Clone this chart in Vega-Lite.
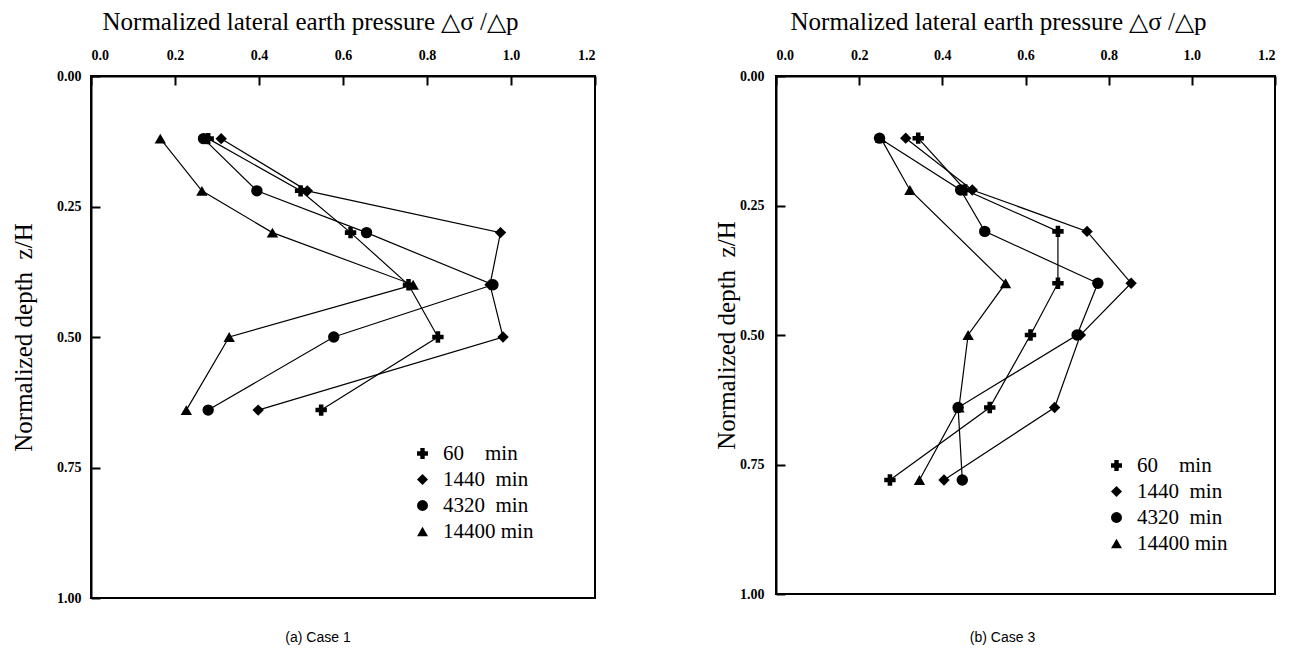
{
  "$schema": "https://vega.github.io/schema/vega-lite/v6.json",
  "padding": {"left": 10, "top": 8, "right": 0, "bottom": 0},
  "background": "white",
  "datasets": {
    "pts": [
      {"panel": "a", "series": "60", "x": 0.279, "depth": 0.12},
      {"panel": "a", "series": "60", "x": 0.499, "depth": 0.22},
      {"panel": "a", "series": "60", "x": 0.618, "depth": 0.30},
      {"panel": "a", "series": "60", "x": 0.756, "depth": 0.40},
      {"panel": "a", "series": "60", "x": 0.826, "depth": 0.50},
      {"panel": "a", "series": "60", "x": 0.548, "depth": 0.64},
      {"panel": "a", "series": "1440", "x": 0.310, "depth": 0.12},
      {"panel": "a", "series": "1440", "x": 0.515, "depth": 0.22},
      {"panel": "a", "series": "1440", "x": 0.975, "depth": 0.30},
      {"panel": "a", "series": "1440", "x": 0.950, "depth": 0.40},
      {"panel": "a", "series": "1440", "x": 0.981, "depth": 0.50},
      {"panel": "a", "series": "1440", "x": 0.398, "depth": 0.64},
      {"panel": "a", "series": "4320", "x": 0.268, "depth": 0.12},
      {"panel": "a", "series": "4320", "x": 0.395, "depth": 0.22},
      {"panel": "a", "series": "4320", "x": 0.656, "depth": 0.30},
      {"panel": "a", "series": "4320", "x": 0.957, "depth": 0.40},
      {"panel": "a", "series": "4320", "x": 0.578, "depth": 0.50},
      {"panel": "a", "series": "4320", "x": 0.279, "depth": 0.64},
      {"panel": "a", "series": "14400", "x": 0.165, "depth": 0.12},
      {"panel": "a", "series": "14400", "x": 0.264, "depth": 0.22},
      {"panel": "a", "series": "14400", "x": 0.432, "depth": 0.30},
      {"panel": "a", "series": "14400", "x": 0.767, "depth": 0.40},
      {"panel": "a", "series": "14400", "x": 0.329, "depth": 0.50},
      {"panel": "a", "series": "14400", "x": 0.227, "depth": 0.64},
      {"panel": "b", "series": "60", "x": 0.342, "depth": 0.12},
      {"panel": "b", "series": "60", "x": 0.455, "depth": 0.22},
      {"panel": "b", "series": "60", "x": 0.678, "depth": 0.30},
      {"panel": "b", "series": "60", "x": 0.678, "depth": 0.40},
      {"panel": "b", "series": "60", "x": 0.612, "depth": 0.50},
      {"panel": "b", "series": "60", "x": 0.514, "depth": 0.64},
      {"panel": "b", "series": "60", "x": 0.274, "depth": 0.78},
      {"panel": "b", "series": "1440", "x": 0.312, "depth": 0.12},
      {"panel": "b", "series": "1440", "x": 0.472, "depth": 0.22},
      {"panel": "b", "series": "1440", "x": 0.748, "depth": 0.30},
      {"panel": "b", "series": "1440", "x": 0.854, "depth": 0.40},
      {"panel": "b", "series": "1440", "x": 0.732, "depth": 0.50},
      {"panel": "b", "series": "1440", "x": 0.670, "depth": 0.64},
      {"panel": "b", "series": "1440", "x": 0.404, "depth": 0.78},
      {"panel": "b", "series": "4320", "x": 0.249, "depth": 0.12},
      {"panel": "b", "series": "4320", "x": 0.444, "depth": 0.22},
      {"panel": "b", "series": "4320", "x": 0.502, "depth": 0.30},
      {"panel": "b", "series": "4320", "x": 0.774, "depth": 0.40},
      {"panel": "b", "series": "4320", "x": 0.724, "depth": 0.50},
      {"panel": "b", "series": "4320", "x": 0.438, "depth": 0.64},
      {"panel": "b", "series": "4320", "x": 0.448, "depth": 0.78},
      {"panel": "b", "series": "14400", "x": 0.252, "depth": 0.12},
      {"panel": "b", "series": "14400", "x": 0.322, "depth": 0.22},
      {"panel": "b", "series": "14400", "x": 0.552, "depth": 0.40},
      {"panel": "b", "series": "14400", "x": 0.462, "depth": 0.50},
      {"panel": "b", "series": "14400", "x": 0.440, "depth": 0.64},
      {"panel": "b", "series": "14400", "x": 0.345, "depth": 0.78}
    ]
  },
  "config": {
    "view": {"stroke": "black", "strokeWidth": 2},
    "axis": {
      "domainColor": "black", "domainWidth": 2,
      "tickColor": "black", "tickWidth": 2, "tickSize": -9,
      "labelFont": "Liberation Serif", "labelFontWeight": "bold", "labelFontSize": 14, "labelColor": "black",
      "titleFont": "Liberation Serif", "titleFontWeight": "normal", "titleFontSize": 25, "titleColor": "black",
      "grid": false
    },
    "legend": {
      "labelFont": "Liberation Serif", "labelFontSize": 21, "labelColor": "black",
      "symbolFillColor": "black", "symbolStrokeColor": "black", "symbolStrokeWidth": 0,
      "symbolSize": 120, "rowPadding": 4, "title": null, "labelOffset": 10
    },
    "title": {"font": "Liberation Sans", "fontSize": 14, "fontWeight": "normal", "color": "black", "orient": "bottom", "offset": 26}
  },
  "hconcat": [
    {
      "width": 504, "height": 522,
      "title": {"text": "(a) Case 1", "dx": -25},
      "data": {"name": "pts"},
      "transform": [{"filter": "datum.panel == 'a'"}],
      "encoding": {
        "x": {"field": "x", "type": "quantitative", "scale": {"domain": [0, 1.2], "nice": false},
              "axis": {"orient": "top", "values": [0, 0.2, 0.4, 0.6, 0.8, 1.0, 1.2], "format": ".1f", "labelPadding": 23,
                       "title": "Normalized lateral earth pressure  △σ /△p", "titlePadding": 14, "titleX": 219}},
        "y": {"field": "depth", "type": "quantitative", "scale": {"domain": [0, 1], "reverse": true, "nice": false},
              "axis": {"values": [0, 0.25, 0.5, 0.75, 1], "format": ".2f", "labelPadding": 19,
                       "title": "Normalized depth\u00a0\u00a0z/H", "titlePadding": 20}}
      },
      "layer": [
        {"mark": {"type": "line", "color": "black", "strokeWidth": 1.2},
         "encoding": {"detail": {"field": "series"}, "order": {"field": "depth", "type": "quantitative"}}},
        {"mark": {"type": "point", "filled": true, "color": "black", "opacity": 1, "size": 130},
         "encoding": {"shape": {"field": "series", "type": "nominal",
            "scale": {"domain": ["60", "1440", "4320", "14400"], "range": ["cross", "diamond", "circle", "triangle-up"]},
            "legend": {"orient": "none", "legendX": 321, "legendY": 367,
                       "labelExpr": "datum.label == '60' ? '\u00a0\u00a060\u00a0\u00a0\u00a0\u00a0min' : datum.label == '14400' ? '14400 min' : datum.label + '\u00a0\u00a0min'"}}}}
      ]
    },
    {
      "width": 499, "height": 518,
      "title": {"text": "(b) Case 3", "dx": -23, "offset": 30},
      "data": {"name": "pts"},
      "transform": [{"filter": "datum.panel == 'b'"}],
      "encoding": {
        "x": {"field": "x", "type": "quantitative", "scale": {"domain": [0, 1.2], "nice": false},
              "axis": {"orient": "top", "values": [0, 0.2, 0.4, 0.6, 0.8, 1.0, 1.2], "format": ".1f", "labelPadding": 23,
                       "title": "Normalized lateral earth pressure  △σ /△p", "titlePadding": 14, "titleX": 222}},
        "y": {"field": "depth", "type": "quantitative", "scale": {"domain": [0, 1], "reverse": true, "nice": false},
              "axis": {"values": [0, 0.25, 0.5, 0.75, 1], "format": ".2f", "labelPadding": 21,
                       "title": "Normalized depth\u00a0\u00a0z/H", "titlePadding": 0}}
      },
      "layer": [
        {"mark": {"type": "line", "color": "black", "strokeWidth": 1.2},
         "encoding": {"detail": {"field": "series"}, "order": {"field": "depth", "type": "quantitative"}}},
        {"mark": {"type": "point", "filled": true, "color": "black", "opacity": 1, "size": 130},
         "encoding": {"shape": {"field": "series", "type": "nominal",
            "scale": {"domain": ["60", "1440", "4320", "14400"], "range": ["cross", "diamond", "circle", "triangle-up"]},
            "legend": {"orient": "none", "legendX": 330, "legendY": 379,
                       "labelExpr": "datum.label == '60' ? '\u00a0\u00a060\u00a0\u00a0\u00a0\u00a0min' : datum.label == '14400' ? '14400 min' : datum.label + '\u00a0\u00a0min'"}}}}
      ]
    }
  ],
  "spacing": 116,
  "resolve": {"scale": {"shape": "independent"}, "legend": {"shape": "independent"}}
}
